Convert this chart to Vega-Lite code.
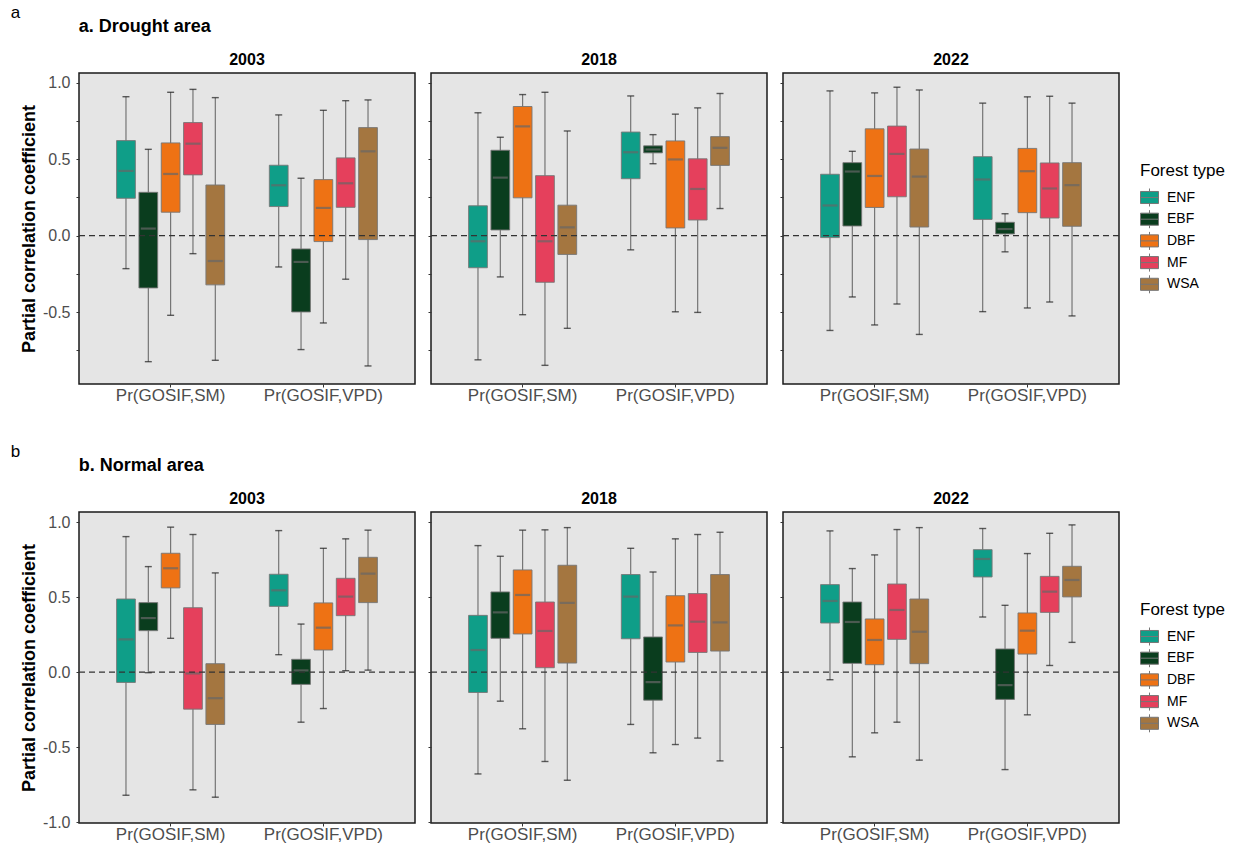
{
  "$schema": "https://vega.github.io/schema/vega-lite/v6.json",
  "background": "white",
  "padding": {"left": 10, "top": 4, "right": 5, "bottom": 3},
  "config": {
    "font": "Liberation Sans",
    "view": {"fill": "#e5e5e5", "stroke": "#1a1a1a", "strokeWidth": 1.5},
    "axis": {"domain": false, "grid": false, "labelColor": "#4d4d4d", "tickColor": "#333333", "tickSize": 3, "labelFont": "Liberation Sans", "titleFont": "Liberation Sans"},
    "axisY": {"labelFontSize": 16, "titleFontSize": 18, "titleFontWeight": "bold", "titleColor": "#000000", "labelPadding": 6, "titlePadding": 4},
    "axisX": {"labelFontSize": 17, "labelPadding": 0},
    "title": {"fontSize": 16, "fontWeight": "bold", "color": "#000000", "offset": 5, "font": "Liberation Sans"},
    "concat": {"spacing": 9}
  },
  "datasets": {
    "d": [
      {"area": "Drought", "year": "2003", "v": "Pr(GOSIF,SM)", "t": "ENF", "lo": -0.216, "q1": 0.244, "md": 0.423, "q3": 0.621, "hi": 0.908},
      {"area": "Drought", "year": "2003", "v": "Pr(GOSIF,SM)", "t": "EBF", "lo": -0.824, "q1": -0.342, "md": 0.046, "q3": 0.283, "hi": 0.564},
      {"area": "Drought", "year": "2003", "v": "Pr(GOSIF,SM)", "t": "DBF", "lo": -0.521, "q1": 0.153, "md": 0.403, "q3": 0.606, "hi": 0.937},
      {"area": "Drought", "year": "2003", "v": "Pr(GOSIF,SM)", "t": "MF", "lo": -0.118, "q1": 0.397, "md": 0.601, "q3": 0.739, "hi": 0.956},
      {"area": "Drought", "year": "2003", "v": "Pr(GOSIF,SM)", "t": "WSA", "lo": -0.815, "q1": -0.322, "md": -0.166, "q3": 0.331, "hi": 0.902},
      {"area": "Drought", "year": "2003", "v": "Pr(GOSIF,VPD)", "t": "ENF", "lo": -0.205, "q1": 0.19, "md": 0.329, "q3": 0.46, "hi": 0.789},
      {"area": "Drought", "year": "2003", "v": "Pr(GOSIF,VPD)", "t": "EBF", "lo": -0.745, "q1": -0.499, "md": -0.172, "q3": -0.087, "hi": 0.375},
      {"area": "Drought", "year": "2003", "v": "Pr(GOSIF,VPD)", "t": "DBF", "lo": -0.571, "q1": -0.039, "md": 0.181, "q3": 0.366, "hi": 0.819},
      {"area": "Drought", "year": "2003", "v": "Pr(GOSIF,VPD)", "t": "MF", "lo": -0.285, "q1": 0.185, "md": 0.342, "q3": 0.508, "hi": 0.882},
      {"area": "Drought", "year": "2003", "v": "Pr(GOSIF,VPD)", "t": "WSA", "lo": -0.852, "q1": -0.026, "md": 0.551, "q3": 0.706, "hi": 0.887},
      {"area": "Drought", "year": "2018", "v": "Pr(GOSIF,SM)", "t": "ENF", "lo": -0.812, "q1": -0.21, "md": -0.037, "q3": 0.195, "hi": 0.803},
      {"area": "Drought", "year": "2018", "v": "Pr(GOSIF,SM)", "t": "EBF", "lo": -0.27, "q1": 0.037, "md": 0.379, "q3": 0.558, "hi": 0.643},
      {"area": "Drought", "year": "2018", "v": "Pr(GOSIF,SM)", "t": "DBF", "lo": -0.517, "q1": 0.247, "md": 0.714, "q3": 0.844, "hi": 0.922},
      {"area": "Drought", "year": "2018", "v": "Pr(GOSIF,SM)", "t": "MF", "lo": -0.848, "q1": -0.305, "md": -0.037, "q3": 0.392, "hi": 0.937},
      {"area": "Drought", "year": "2018", "v": "Pr(GOSIF,SM)", "t": "WSA", "lo": -0.606, "q1": -0.123, "md": 0.054, "q3": 0.199, "hi": 0.684},
      {"area": "Drought", "year": "2018", "v": "Pr(GOSIF,VPD)", "t": "ENF", "lo": -0.093, "q1": 0.372, "md": 0.545, "q3": 0.677, "hi": 0.913},
      {"area": "Drought", "year": "2018", "v": "Pr(GOSIF,VPD)", "t": "EBF", "lo": 0.47, "q1": 0.541, "md": 0.563, "q3": 0.587, "hi": 0.66},
      {"area": "Drought", "year": "2018", "v": "Pr(GOSIF,VPD)", "t": "DBF", "lo": -0.498, "q1": 0.05, "md": 0.498, "q3": 0.619, "hi": 0.794},
      {"area": "Drought", "year": "2018", "v": "Pr(GOSIF,VPD)", "t": "MF", "lo": -0.502, "q1": 0.102, "md": 0.305, "q3": 0.502, "hi": 0.835},
      {"area": "Drought", "year": "2018", "v": "Pr(GOSIF,VPD)", "t": "WSA", "lo": 0.177, "q1": 0.459, "md": 0.574, "q3": 0.647, "hi": 0.929},
      {"area": "Drought", "year": "2022", "v": "Pr(GOSIF,SM)", "t": "ENF", "lo": -0.62, "q1": -0.013, "md": 0.197, "q3": 0.401, "hi": 0.946},
      {"area": "Drought", "year": "2022", "v": "Pr(GOSIF,SM)", "t": "EBF", "lo": -0.401, "q1": 0.063, "md": 0.419, "q3": 0.477, "hi": 0.551},
      {"area": "Drought", "year": "2022", "v": "Pr(GOSIF,SM)", "t": "DBF", "lo": -0.584, "q1": 0.184, "md": 0.39, "q3": 0.698, "hi": 0.933},
      {"area": "Drought", "year": "2022", "v": "Pr(GOSIF,SM)", "t": "MF", "lo": -0.447, "q1": 0.254, "md": 0.534, "q3": 0.716, "hi": 0.97},
      {"area": "Drought", "year": "2022", "v": "Pr(GOSIF,SM)", "t": "WSA", "lo": -0.646, "q1": 0.056, "md": 0.386, "q3": 0.566, "hi": 0.952},
      {"area": "Drought", "year": "2022", "v": "Pr(GOSIF,VPD)", "t": "ENF", "lo": -0.497, "q1": 0.106, "md": 0.367, "q3": 0.516, "hi": 0.866},
      {"area": "Drought", "year": "2022", "v": "Pr(GOSIF,VPD)", "t": "EBF", "lo": -0.106, "q1": 0.011, "md": 0.043, "q3": 0.087, "hi": 0.143},
      {"area": "Drought", "year": "2022", "v": "Pr(GOSIF,VPD)", "t": "DBF", "lo": -0.473, "q1": 0.15, "md": 0.421, "q3": 0.57, "hi": 0.907},
      {"area": "Drought", "year": "2022", "v": "Pr(GOSIF,VPD)", "t": "MF", "lo": -0.434, "q1": 0.115, "md": 0.308, "q3": 0.475, "hi": 0.911},
      {"area": "Drought", "year": "2022", "v": "Pr(GOSIF,VPD)", "t": "WSA", "lo": -0.525, "q1": 0.061, "md": 0.33, "q3": 0.477, "hi": 0.866},
      {"area": "Normal", "year": "2003", "v": "Pr(GOSIF,SM)", "t": "ENF", "lo": -0.821, "q1": -0.069, "md": 0.218, "q3": 0.487, "hi": 0.903},
      {"area": "Normal", "year": "2003", "v": "Pr(GOSIF,SM)", "t": "EBF", "lo": -0.004, "q1": 0.276, "md": 0.36, "q3": 0.463, "hi": 0.703},
      {"area": "Normal", "year": "2003", "v": "Pr(GOSIF,SM)", "t": "DBF", "lo": 0.225, "q1": 0.561, "md": 0.692, "q3": 0.792, "hi": 0.966},
      {"area": "Normal", "year": "2003", "v": "Pr(GOSIF,SM)", "t": "MF", "lo": -0.785, "q1": -0.247, "md": -0.009, "q3": 0.429, "hi": 0.917},
      {"area": "Normal", "year": "2003", "v": "Pr(GOSIF,SM)", "t": "WSA", "lo": -0.834, "q1": -0.349, "md": -0.174, "q3": 0.056, "hi": 0.661},
      {"area": "Normal", "year": "2003", "v": "Pr(GOSIF,VPD)", "t": "ENF", "lo": 0.116, "q1": 0.438, "md": 0.545, "q3": 0.652, "hi": 0.943},
      {"area": "Normal", "year": "2003", "v": "Pr(GOSIF,VPD)", "t": "EBF", "lo": -0.334, "q1": -0.082, "md": 0.011, "q3": 0.085, "hi": 0.32},
      {"area": "Normal", "year": "2003", "v": "Pr(GOSIF,VPD)", "t": "DBF", "lo": -0.243, "q1": 0.147, "md": 0.296, "q3": 0.461, "hi": 0.825},
      {"area": "Normal", "year": "2003", "v": "Pr(GOSIF,VPD)", "t": "MF", "lo": 0.009, "q1": 0.376, "md": 0.503, "q3": 0.625, "hi": 0.888},
      {"area": "Normal", "year": "2003", "v": "Pr(GOSIF,VPD)", "t": "WSA", "lo": 0.013, "q1": 0.463, "md": 0.656, "q3": 0.765, "hi": 0.946},
      {"area": "Normal", "year": "2018", "v": "Pr(GOSIF,SM)", "t": "ENF", "lo": -0.679, "q1": -0.136, "md": 0.147, "q3": 0.378, "hi": 0.843},
      {"area": "Normal", "year": "2018", "v": "Pr(GOSIF,SM)", "t": "EBF", "lo": -0.194, "q1": 0.225, "md": 0.398, "q3": 0.534, "hi": 0.772},
      {"area": "Normal", "year": "2018", "v": "Pr(GOSIF,SM)", "t": "DBF", "lo": -0.378, "q1": 0.254, "md": 0.514, "q3": 0.681, "hi": 0.946},
      {"area": "Normal", "year": "2018", "v": "Pr(GOSIF,SM)", "t": "MF", "lo": -0.596, "q1": 0.029, "md": 0.274, "q3": 0.467, "hi": 0.948},
      {"area": "Normal", "year": "2018", "v": "Pr(GOSIF,SM)", "t": "WSA", "lo": -0.721, "q1": 0.06, "md": 0.461, "q3": 0.712, "hi": 0.963},
      {"area": "Normal", "year": "2018", "v": "Pr(GOSIF,VPD)", "t": "ENF", "lo": -0.349, "q1": 0.222, "md": 0.503, "q3": 0.65, "hi": 0.825},
      {"area": "Normal", "year": "2018", "v": "Pr(GOSIF,VPD)", "t": "EBF", "lo": -0.538, "q1": -0.187, "md": -0.067, "q3": 0.234, "hi": 0.667},
      {"area": "Normal", "year": "2018", "v": "Pr(GOSIF,VPD)", "t": "DBF", "lo": -0.483, "q1": 0.067, "md": 0.311, "q3": 0.509, "hi": 0.888},
      {"area": "Normal", "year": "2018", "v": "Pr(GOSIF,VPD)", "t": "MF", "lo": -0.44, "q1": 0.131, "md": 0.336, "q3": 0.523, "hi": 0.917},
      {"area": "Normal", "year": "2018", "v": "Pr(GOSIF,VPD)", "t": "WSA", "lo": -0.592, "q1": 0.14, "md": 0.331, "q3": 0.65, "hi": 0.932},
      {"area": "Normal", "year": "2022", "v": "Pr(GOSIF,SM)", "t": "ENF", "lo": -0.051, "q1": 0.327, "md": 0.474, "q3": 0.583, "hi": 0.941},
      {"area": "Normal", "year": "2022", "v": "Pr(GOSIF,SM)", "t": "EBF", "lo": -0.565, "q1": 0.058, "md": 0.334, "q3": 0.467, "hi": 0.69},
      {"area": "Normal", "year": "2022", "v": "Pr(GOSIF,SM)", "t": "DBF", "lo": -0.405, "q1": 0.049, "md": 0.214, "q3": 0.354, "hi": 0.781},
      {"area": "Normal", "year": "2022", "v": "Pr(GOSIF,SM)", "t": "MF", "lo": -0.334, "q1": 0.218, "md": 0.414, "q3": 0.587, "hi": 0.95},
      {"area": "Normal", "year": "2022", "v": "Pr(GOSIF,SM)", "t": "WSA", "lo": -0.587, "q1": 0.056, "md": 0.269, "q3": 0.487, "hi": 0.963},
      {"area": "Normal", "year": "2022", "v": "Pr(GOSIF,VPD)", "t": "ENF", "lo": 0.367, "q1": 0.634, "md": 0.754, "q3": 0.816, "hi": 0.957},
      {"area": "Normal", "year": "2022", "v": "Pr(GOSIF,VPD)", "t": "EBF", "lo": -0.65, "q1": -0.182, "md": -0.087, "q3": 0.154, "hi": 0.445},
      {"area": "Normal", "year": "2022", "v": "Pr(GOSIF,VPD)", "t": "DBF", "lo": -0.285, "q1": 0.12, "md": 0.276, "q3": 0.394, "hi": 0.79},
      {"area": "Normal", "year": "2022", "v": "Pr(GOSIF,VPD)", "t": "MF", "lo": 0.044, "q1": 0.398, "md": 0.536, "q3": 0.638, "hi": 0.925},
      {"area": "Normal", "year": "2022", "v": "Pr(GOSIF,VPD)", "t": "WSA", "lo": 0.198, "q1": 0.501, "md": 0.614, "q3": 0.705, "hi": 0.981}
    ]
  },
  "resolve": {"scale": {"fill": "independent"}, "legend": {"fill": "independent"}},
  "spacing": 39,
  "vconcat": [
    {
      "title": {"text": "a", "anchor": "start", "dx": -9, "fontSize": 17, "fontWeight": "normal", "offset": -4},
      "vconcat": [
        {
          "title": {"text": "a. Drought area", "anchor": "start", "dx": 59, "fontSize": 18, "offset": 15},
          "hconcat": [
            {
              "width": 336, "height": 311,
              "title": {"text": "2003", "anchor": "middle", "frame": "group"},
              "layer": [
                {
                  "data": {"name": "d"},
                  "transform": [{"filter": "datum.area === 'Drought' && datum.year === '2003'"}],
                  "encoding": {
                    "x": {"field": "v", "type": "nominal", "title": null, "scale": {"paddingInner": 0, "paddingOuter": 0.1}, "axis": {"labelAngle": 0}},
                    "xOffset": {"field": "t", "type": "nominal", "sort": ["ENF", "EBF", "DBF", "MF", "WSA"], "scale": {"paddingInner": 0.16, "paddingOuter": 1.76}}
                  },
                  "layer": [
                    {"mark": {"type": "rule", "color": "#6b6b6b", "strokeWidth": 1.1}, "encoding": {"y": {"field": "lo", "type": "quantitative", "title": "Partial correlation coefficient", "scale": {"domain": [-0.97, 1.063], "nice": false, "zero": false}, "axis": {"values": [-0.75, -0.5, -0.25, 0, 0.25, 0.5, 0.75, 1], "labelExpr": "abs(datum.value*2-round(datum.value*2))<0.01 ? (datum.value<0?'-':'')+format(abs(datum.value),'.1f') : ''"}}, "y2": {"field": "hi"}}},
                    {"mark": {"type": "tick", "color": "#1e1e1e", "size": 7, "thickness": 1.4}, "encoding": {"y": {"field": "lo", "type": "quantitative"}}},
                    {"mark": {"type": "tick", "color": "#1e1e1e", "size": 7, "thickness": 1.4}, "encoding": {"y": {"field": "hi", "type": "quantitative"}}},
                    {"mark": {"type": "bar", "stroke": "#767676", "strokeWidth": 0.9}, "encoding": {"y": {"field": "q1", "type": "quantitative"}, "y2": {"field": "q3"}, "fill": {"field": "t", "type": "nominal", "scale": {"domain": ["ENF", "EBF", "DBF", "MF", "WSA"], "range": ["#0f9e88", "#0a3d1e", "#ee7214", "#e5405c", "#a47640"]}, "legend": {"title": "Forest type", "orient": "none", "legendX": 1061, "legendY": 90, "symbolType": "M-1,-0.67H1V0.67H-1Z M-1,0H1 M0,-0.67V-1 M0,0.67V1", "symbolSize": 324, "symbolStrokeColor": "#777777", "symbolStrokeWidth": 1, "titleFontSize": 17, "titleFontWeight": "normal", "titleColor": "#000", "labelFontSize": 14, "labelColor": "#000", "rowPadding": -1.3, "labelOffset": 8, "titlePadding": 8}}}},
                    {"mark": {"type": "tick", "color": "#666666", "size": 15, "thickness": 2.2}, "encoding": {"y": {"field": "md", "type": "quantitative"}}}
                  ]
                },
                {"data": {"values": [{}]}, "mark": {"type": "rule", "color": "#333333", "strokeDash": [6, 4], "strokeWidth": 1.2}, "encoding": {"y": {"datum": 0}}}
              ]
            },
            {
              "width": 336, "height": 311,
              "title": {"text": "2018", "anchor": "middle", "frame": "group"},
              "layer": [
                {
                  "data": {"name": "d"},
                  "transform": [{"filter": "datum.area === 'Drought' && datum.year === '2018'"}],
                  "encoding": {
                    "x": {"field": "v", "type": "nominal", "title": null, "scale": {"paddingInner": 0, "paddingOuter": 0.1}, "axis": {"labelAngle": 0}},
                    "xOffset": {"field": "t", "type": "nominal", "sort": ["ENF", "EBF", "DBF", "MF", "WSA"], "scale": {"paddingInner": 0.16, "paddingOuter": 1.76}}
                  },
                  "layer": [
                    {"mark": {"type": "rule", "color": "#6b6b6b", "strokeWidth": 1.1}, "encoding": {"y": {"field": "lo", "type": "quantitative", "title": null, "scale": {"domain": [-0.97, 1.063], "nice": false, "zero": false}, "axis": {"values": [-0.75, -0.5, -0.25, 0, 0.25, 0.5, 0.75, 1], "labels": false}}, "y2": {"field": "hi"}}},
                    {"mark": {"type": "tick", "color": "#1e1e1e", "size": 7, "thickness": 1.4}, "encoding": {"y": {"field": "lo", "type": "quantitative"}}},
                    {"mark": {"type": "tick", "color": "#1e1e1e", "size": 7, "thickness": 1.4}, "encoding": {"y": {"field": "hi", "type": "quantitative"}}},
                    {"mark": {"type": "bar", "stroke": "#767676", "strokeWidth": 0.9}, "encoding": {"y": {"field": "q1", "type": "quantitative"}, "y2": {"field": "q3"}, "fill": {"field": "t", "type": "nominal"}}},
                    {"mark": {"type": "tick", "color": "#666666", "size": 15, "thickness": 2.2}, "encoding": {"y": {"field": "md", "type": "quantitative"}}}
                  ]
                },
                {"data": {"values": [{}]}, "mark": {"type": "rule", "color": "#333333", "strokeDash": [6, 4], "strokeWidth": 1.2}, "encoding": {"y": {"datum": 0}}}
              ]
            },
            {
              "width": 336, "height": 311,
              "title": {"text": "2022", "anchor": "middle", "frame": "group"},
              "layer": [
                {
                  "data": {"name": "d"},
                  "transform": [{"filter": "datum.area === 'Drought' && datum.year === '2022'"}],
                  "encoding": {
                    "x": {"field": "v", "type": "nominal", "title": null, "scale": {"paddingInner": 0, "paddingOuter": 0.1}, "axis": {"labelAngle": 0}},
                    "xOffset": {"field": "t", "type": "nominal", "sort": ["ENF", "EBF", "DBF", "MF", "WSA"], "scale": {"paddingInner": 0.16, "paddingOuter": 1.76}}
                  },
                  "layer": [
                    {"mark": {"type": "rule", "color": "#6b6b6b", "strokeWidth": 1.1}, "encoding": {"y": {"field": "lo", "type": "quantitative", "title": null, "scale": {"domain": [-0.97, 1.063], "nice": false, "zero": false}, "axis": {"values": [-0.75, -0.5, -0.25, 0, 0.25, 0.5, 0.75, 1], "labels": false}}, "y2": {"field": "hi"}}},
                    {"mark": {"type": "tick", "color": "#1e1e1e", "size": 7, "thickness": 1.4}, "encoding": {"y": {"field": "lo", "type": "quantitative"}}},
                    {"mark": {"type": "tick", "color": "#1e1e1e", "size": 7, "thickness": 1.4}, "encoding": {"y": {"field": "hi", "type": "quantitative"}}},
                    {"mark": {"type": "bar", "stroke": "#767676", "strokeWidth": 0.9}, "encoding": {"y": {"field": "q1", "type": "quantitative"}, "y2": {"field": "q3"}, "fill": {"field": "t", "type": "nominal"}}},
                    {"mark": {"type": "tick", "color": "#666666", "size": 15, "thickness": 2.2}, "encoding": {"y": {"field": "md", "type": "quantitative"}}}
                  ]
                },
                {"data": {"values": [{}]}, "mark": {"type": "rule", "color": "#333333", "strokeDash": [6, 4], "strokeWidth": 1.2}, "encoding": {"y": {"datum": 0}}}
              ]
            }
          ]
        }
      ]
    },
    {
      "title": {"text": "b", "anchor": "start", "dx": -9, "fontSize": 17, "fontWeight": "normal", "offset": -4},
      "vconcat": [
        {
          "title": {"text": "b. Normal area", "anchor": "start", "dx": 59, "fontSize": 18, "offset": 15},
          "hconcat": [
            {
              "width": 336, "height": 311,
              "title": {"text": "2003", "anchor": "middle", "frame": "group"},
              "layer": [
                {
                  "data": {"name": "d"},
                  "transform": [{"filter": "datum.area === 'Normal' && datum.year === '2003'"}],
                  "encoding": {
                    "x": {"field": "v", "type": "nominal", "title": null, "scale": {"paddingInner": 0, "paddingOuter": 0.1}, "axis": {"labelAngle": 0}},
                    "xOffset": {"field": "t", "type": "nominal", "sort": ["ENF", "EBF", "DBF", "MF", "WSA"], "scale": {"paddingInner": 0.16, "paddingOuter": 1.76}}
                  },
                  "layer": [
                    {"mark": {"type": "rule", "color": "#6b6b6b", "strokeWidth": 1.1}, "encoding": {"y": {"field": "lo", "type": "quantitative", "title": "Partial correlation coefficient", "scale": {"domain": [-1.006, 1.067], "nice": false, "zero": false}, "axis": {"values": [-1, -0.75, -0.5, -0.25, 0, 0.25, 0.5, 0.75, 1], "labelExpr": "abs(datum.value*2-round(datum.value*2))<0.01 ? (datum.value<0?'-':'')+format(abs(datum.value),'.1f') : ''"}}, "y2": {"field": "hi"}}},
                    {"mark": {"type": "tick", "color": "#1e1e1e", "size": 7, "thickness": 1.4}, "encoding": {"y": {"field": "lo", "type": "quantitative"}}},
                    {"mark": {"type": "tick", "color": "#1e1e1e", "size": 7, "thickness": 1.4}, "encoding": {"y": {"field": "hi", "type": "quantitative"}}},
                    {"mark": {"type": "bar", "stroke": "#767676", "strokeWidth": 0.9}, "encoding": {"y": {"field": "q1", "type": "quantitative"}, "y2": {"field": "q3"}, "fill": {"field": "t", "type": "nominal", "scale": {"domain": ["ENF", "EBF", "DBF", "MF", "WSA"], "range": ["#0f9e88", "#0a3d1e", "#ee7214", "#e5405c", "#a47640"]}, "legend": {"title": "Forest type", "orient": "none", "legendX": 1061, "legendY": 90, "symbolType": "M-1,-0.67H1V0.67H-1Z M-1,0H1 M0,-0.67V-1 M0,0.67V1", "symbolSize": 324, "symbolStrokeColor": "#777777", "symbolStrokeWidth": 1, "titleFontSize": 17, "titleFontWeight": "normal", "titleColor": "#000", "labelFontSize": 14, "labelColor": "#000", "rowPadding": -1.3, "labelOffset": 8, "titlePadding": 8}}}},
                    {"mark": {"type": "tick", "color": "#666666", "size": 15, "thickness": 2.2}, "encoding": {"y": {"field": "md", "type": "quantitative"}}}
                  ]
                },
                {"data": {"values": [{}]}, "mark": {"type": "rule", "color": "#333333", "strokeDash": [6, 4], "strokeWidth": 1.2}, "encoding": {"y": {"datum": 0}}}
              ]
            },
            {
              "width": 336, "height": 311,
              "title": {"text": "2018", "anchor": "middle", "frame": "group"},
              "layer": [
                {
                  "data": {"name": "d"},
                  "transform": [{"filter": "datum.area === 'Normal' && datum.year === '2018'"}],
                  "encoding": {
                    "x": {"field": "v", "type": "nominal", "title": null, "scale": {"paddingInner": 0, "paddingOuter": 0.1}, "axis": {"labelAngle": 0}},
                    "xOffset": {"field": "t", "type": "nominal", "sort": ["ENF", "EBF", "DBF", "MF", "WSA"], "scale": {"paddingInner": 0.16, "paddingOuter": 1.76}}
                  },
                  "layer": [
                    {"mark": {"type": "rule", "color": "#6b6b6b", "strokeWidth": 1.1}, "encoding": {"y": {"field": "lo", "type": "quantitative", "title": null, "scale": {"domain": [-1.006, 1.067], "nice": false, "zero": false}, "axis": {"values": [-1, -0.75, -0.5, -0.25, 0, 0.25, 0.5, 0.75, 1], "labels": false}}, "y2": {"field": "hi"}}},
                    {"mark": {"type": "tick", "color": "#1e1e1e", "size": 7, "thickness": 1.4}, "encoding": {"y": {"field": "lo", "type": "quantitative"}}},
                    {"mark": {"type": "tick", "color": "#1e1e1e", "size": 7, "thickness": 1.4}, "encoding": {"y": {"field": "hi", "type": "quantitative"}}},
                    {"mark": {"type": "bar", "stroke": "#767676", "strokeWidth": 0.9}, "encoding": {"y": {"field": "q1", "type": "quantitative"}, "y2": {"field": "q3"}, "fill": {"field": "t", "type": "nominal"}}},
                    {"mark": {"type": "tick", "color": "#666666", "size": 15, "thickness": 2.2}, "encoding": {"y": {"field": "md", "type": "quantitative"}}}
                  ]
                },
                {"data": {"values": [{}]}, "mark": {"type": "rule", "color": "#333333", "strokeDash": [6, 4], "strokeWidth": 1.2}, "encoding": {"y": {"datum": 0}}}
              ]
            },
            {
              "width": 336, "height": 311,
              "title": {"text": "2022", "anchor": "middle", "frame": "group"},
              "layer": [
                {
                  "data": {"name": "d"},
                  "transform": [{"filter": "datum.area === 'Normal' && datum.year === '2022'"}],
                  "encoding": {
                    "x": {"field": "v", "type": "nominal", "title": null, "scale": {"paddingInner": 0, "paddingOuter": 0.1}, "axis": {"labelAngle": 0}},
                    "xOffset": {"field": "t", "type": "nominal", "sort": ["ENF", "EBF", "DBF", "MF", "WSA"], "scale": {"paddingInner": 0.16, "paddingOuter": 1.76}}
                  },
                  "layer": [
                    {"mark": {"type": "rule", "color": "#6b6b6b", "strokeWidth": 1.1}, "encoding": {"y": {"field": "lo", "type": "quantitative", "title": null, "scale": {"domain": [-1.006, 1.067], "nice": false, "zero": false}, "axis": {"values": [-1, -0.75, -0.5, -0.25, 0, 0.25, 0.5, 0.75, 1], "labels": false}}, "y2": {"field": "hi"}}},
                    {"mark": {"type": "tick", "color": "#1e1e1e", "size": 7, "thickness": 1.4}, "encoding": {"y": {"field": "lo", "type": "quantitative"}}},
                    {"mark": {"type": "tick", "color": "#1e1e1e", "size": 7, "thickness": 1.4}, "encoding": {"y": {"field": "hi", "type": "quantitative"}}},
                    {"mark": {"type": "bar", "stroke": "#767676", "strokeWidth": 0.9}, "encoding": {"y": {"field": "q1", "type": "quantitative"}, "y2": {"field": "q3"}, "fill": {"field": "t", "type": "nominal"}}},
                    {"mark": {"type": "tick", "color": "#666666", "size": 15, "thickness": 2.2}, "encoding": {"y": {"field": "md", "type": "quantitative"}}}
                  ]
                },
                {"data": {"values": [{}]}, "mark": {"type": "rule", "color": "#333333", "strokeDash": [6, 4], "strokeWidth": 1.2}, "encoding": {"y": {"datum": 0}}}
              ]
            }
          ]
        }
      ]
    }
  ]
}
